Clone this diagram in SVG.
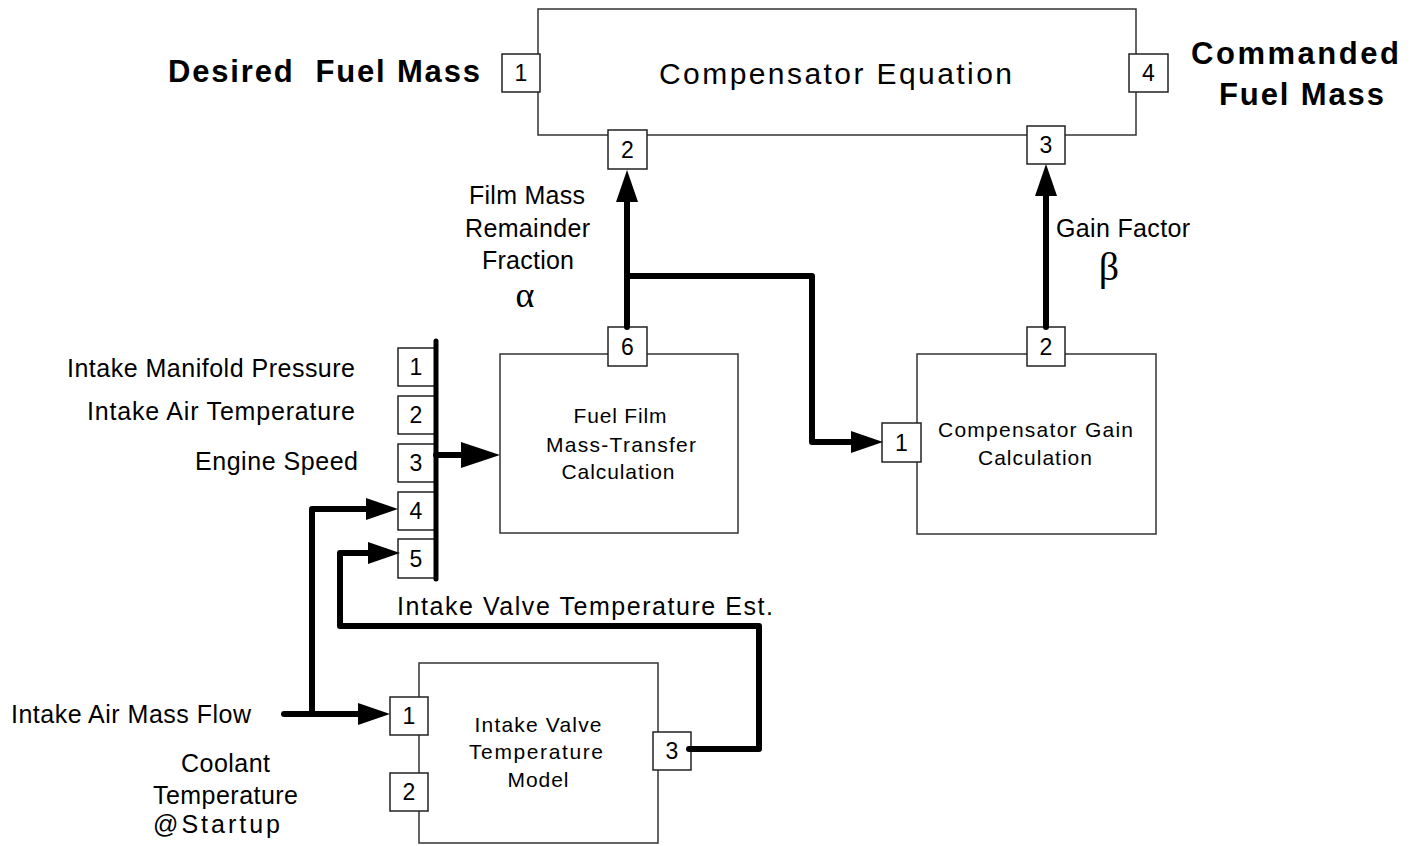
<svg xmlns="http://www.w3.org/2000/svg" width="1416" height="846" viewBox="0 0 1416 846">
<style>
.box{fill:#fff;stroke:#333;stroke-width:1.5}
.port{fill:#fff;stroke:#222;stroke-width:1.5}
.pn{font-family:"Liberation Sans",Arial,sans-serif;font-size:23px;text-anchor:middle;fill:#000}
.lbl{font-family:"Liberation Sans",Arial,sans-serif;font-size:25px;fill:#000}
.in{font-family:"Liberation Sans",Arial,sans-serif;font-size:21px;fill:#000;text-anchor:middle}
.big{font-family:"Liberation Sans",Arial,sans-serif;font-size:31px;font-weight:bold;fill:#000}
.title{font-family:"Liberation Sans",Arial,sans-serif;font-size:30px;fill:#000}
.greek{font-family:"Liberation Serif","DejaVu Serif",serif;font-size:40px;fill:#000;text-anchor:middle}
.wire{fill:none;stroke:#000;stroke-width:6;stroke-linejoin:round;stroke-linecap:round}
</style>
<defs>
<marker id="arr" markerUnits="userSpaceOnUse" markerWidth="32" markerHeight="22" refX="0" refY="11" orient="auto" overflow="visible">
<path d="M0,0 L32,11 L0,22 z" fill="#000"/>
</marker>
<marker id="arrL" markerUnits="userSpaceOnUse" markerWidth="40" markerHeight="26" refX="0" refY="13" orient="auto" overflow="visible">
<path d="M0,0 L39,13 L0,26 z" fill="#000"/>
</marker>
</defs>

<g id="compensator-equation">
<rect class="box" x="538" y="9" width="598" height="126"/>
<text class="title" x="659" y="84" textLength="353" lengthAdjust="spacing">Compensator Equation</text>
<rect class="port" x="502" y="54" width="38" height="38"/><text class="pn" x="521" y="81">1</text>
<rect class="port" x="608" y="130" width="39" height="39"/><text class="pn" x="627.5" y="158">2</text>
<rect class="port" x="1027" y="126" width="38" height="38"/><text class="pn" x="1046" y="153">3</text>
<rect class="port" x="1129" y="54" width="39" height="38"/><text class="pn" x="1148.5" y="81">4</text>
</g>

<g id="fuel-film">
<rect class="box" x="500" y="354" width="238" height="179"/>
<text class="in" x="620" y="423" textLength="93" lengthAdjust="spacing">Fuel Film</text>
<text class="in" x="621" y="452" textLength="150" lengthAdjust="spacing">Mass-Transfer</text>
<text class="in" x="618" y="479" textLength="113" lengthAdjust="spacing">Calculation</text>
<rect class="port" x="608" y="327" width="39" height="39"/><text class="pn" x="627.5" y="355">6</text>
</g>

<g id="compensator-gain">
<rect class="box" x="917" y="354" width="239" height="180"/>
<text class="in" x="1035.5" y="437" textLength="195" lengthAdjust="spacing">Compensator Gain</text>
<text class="in" x="1035" y="465" textLength="114" lengthAdjust="spacing">Calculation</text>
<rect class="port" x="882" y="423" width="39" height="39"/><text class="pn" x="901.5" y="451">1</text>
<rect class="port" x="1027" y="327" width="38" height="39"/><text class="pn" x="1046" y="355">2</text>
</g>

<g id="input-ports">
<rect class="port" x="398" y="348" width="38" height="38"/><text class="pn" x="416" y="375">1</text>
<rect class="port" x="398" y="396" width="38" height="38"/><text class="pn" x="416" y="423">2</text>
<rect class="port" x="398" y="444" width="38" height="38"/><text class="pn" x="416" y="471">3</text>
<rect class="port" x="398" y="492" width="38" height="38"/><text class="pn" x="416" y="519">4</text>
<rect class="port" x="398" y="539" width="38" height="39"/><text class="pn" x="416" y="567">5</text>
</g>

<g id="intake-valve-model">
<rect class="box" x="419" y="663" width="239" height="180"/>
<text class="in" x="538" y="732" textLength="127" lengthAdjust="spacing">Intake Valve</text>
<text class="in" x="536" y="759" textLength="134" lengthAdjust="spacing">Temperature</text>
<text class="in" x="538" y="787" textLength="61" lengthAdjust="spacing">Model</text>
<rect class="port" x="390" y="697" width="38" height="38"/><text class="pn" x="409" y="724">1</text>
<rect class="port" x="390" y="773" width="38" height="38"/><text class="pn" x="409" y="800">2</text>
<rect class="port" x="653" y="732" width="38" height="38"/><text class="pn" x="672" y="759">3</text>
</g>

<g id="connectors">
<path class="wire" d="M627,327 L627,202" marker-end="url(#arr)"/>
<path class="wire" d="M627,276 L812,276 L812,442 L851,442" marker-end="url(#arr)"/>
<path class="wire" d="M1046,327 L1046,196" marker-end="url(#arr)"/>
<path class="wire" d="M436,341 L436,579" style="stroke-width:5"/>
<path class="wire" d="M436,455 L461,455" marker-end="url(#arrL)"/>
<path class="wire" d="M284,714 L358,714" marker-end="url(#arr)"/>
<path class="wire" d="M312,714 L312,509 L366,509" marker-end="url(#arr)"/>
<path class="wire" d="M689,749 L759,749 L759,626 L340,626 L340,553 L368,553" marker-end="url(#arr)"/>
</g>

<g id="labels">
<text class="big" x="168" y="82" textLength="312" lengthAdjust="spacing" xml:space="preserve">Desired  Fuel Mass</text>
<text class="big" x="1191" y="64" textLength="208" lengthAdjust="spacing">Commanded</text>
<text class="big" x="1219" y="105" textLength="165" lengthAdjust="spacing">Fuel Mass</text>
<text class="lbl" x="469" y="204" textLength="116" lengthAdjust="spacing">Film Mass</text>
<text class="lbl" x="465" y="237" textLength="125" lengthAdjust="spacing">Remainder</text>
<text class="lbl" x="482" y="269" textLength="92" lengthAdjust="spacing">Fraction</text>
<text class="greek" x="525" y="307" style="font-size:36px">α</text>
<text class="lbl" x="1056" y="237" textLength="134" lengthAdjust="spacing">Gain Factor</text>
<text class="greek" x="1109" y="280">β</text>
<text class="lbl" x="67" y="377" textLength="288" lengthAdjust="spacing">Intake Manifold Pressure</text>
<text class="lbl" x="87" y="420" textLength="268" lengthAdjust="spacing">Intake Air Temperature</text>
<text class="lbl" x="195" y="470" textLength="163" lengthAdjust="spacing">Engine Speed</text>
<text class="lbl" x="397" y="615" textLength="376" lengthAdjust="spacing">Intake Valve Temperature Est.</text>
<text class="lbl" x="11" y="723" textLength="240" lengthAdjust="spacing">Intake Air Mass Flow</text>
<text class="lbl" x="181" y="772" textLength="89" lengthAdjust="spacing">Coolant</text>
<text class="lbl" x="153" y="804" textLength="145" lengthAdjust="spacing">Temperature</text>
<text class="lbl" x="153" y="833" textLength="127" lengthAdjust="spacing">@Startup</text>
</g>
</svg>
